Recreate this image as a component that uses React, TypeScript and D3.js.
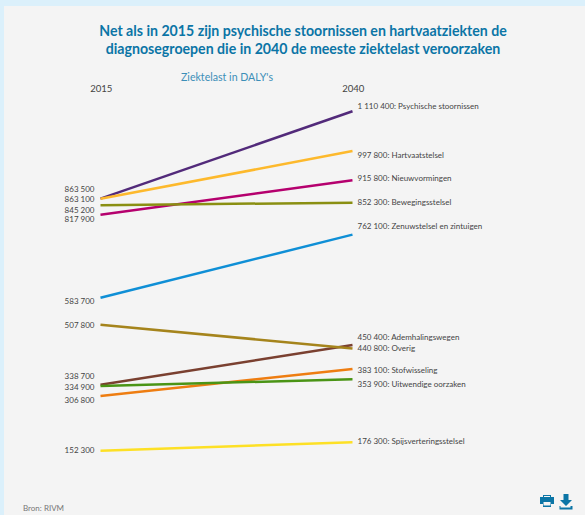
import React, { useEffect, useRef } from 'react'
import * as d3 from 'd3'

// Ziektelast in DALY's per diagnosegroep
const groups = [
  'Psychische stoornissen',
  'Hartvaatstelsel',
  'Nieuwvormingen',
  'Bewegingsstelsel',
  'Zenuwstelsel en zintuigen',
  'Ademhalingswegen',
  'Overig',
  'Stofwisseling',
  'Uitwendige oorzaken',
  'Spijsverteringsstelsel',
]
const years = ['2015', '2040']
const values2015 = [863500, 863100, 817900, 845200, 583700, 338700, 507800, 306800, 334900, 152300]
const values2040 = [1110400, 997800, 915800, 852300, 762100, 450400, 440800, 383100, 353900, 176300]
const colors = ['#522a7a', '#fdb92c', '#b5006e', '#8a8f12', '#0f8fd6', '#7a4030', '#a5841c', '#ee7d11', '#4a9415', '#fde025']

// label shifts so the texts don't overlap (px, same order as groups)
const nudgeLeft = [-9, 0.3, 4.8, 4.8, 3, -8.5, 0, 4, 1, -0.5]
const nudgeRight = [-5.5, 4.5, -2, 0, -8.5, -8, 0, 1, 4.5, -1.2]

const fmt = (v: number) => d3.format(',')(v).replace(/,/g, ' ')

export default function App() {
  const ref = useRef<SVGSVGElement>(null)

  useEffect(() => {
    const width = 585, height = 515
    const svg = d3.select(ref.current)
    svg.selectAll('*').remove()

    svg.append('rect').attr('width', width).attr('height', height).attr('fill', '#dbf0fb')
    svg.append('rect').attr('x', 4).attr('y', 6).attr('width', width - 4).attr('height', height - 6).attr('fill', '#f4f4f4')

    const font = 'Lato, sans-serif'
    const title = svg.append('g').attr('font-family', font).attr('font-size', 14.15).attr('font-weight', 700)
      .attr('fill', '#0b75a6').attr('text-anchor', 'middle')
    title.append('text').attr('x', 303).attr('y', 36).text('Net als in 2015 zijn psychische stoornissen en hartvaatziekten de')
    title.append('text').attr('x', 303).attr('y', 54).text('diagnosegroepen die in 2040 de meeste ziektelast veroorzaken')

    svg.append('text').attr('x', 227).attr('y', 81).attr('text-anchor', 'middle')
      .attr('font-family', font).attr('font-size', 10.6).attr('fill', '#3c8fb8').text("Ziektelast in DALY's")

    const x = d3.scalePoint().domain(years).range([100.5, 352.5])
    const y = d3.scaleLinear().domain([152300, 1110400]).range([450.7, 111.2])

    const head = svg.append('g').attr('font-family', font).attr('font-size', 9.6).attr('fill', '#444').attr('text-anchor', 'middle')
    years.forEach((yr) => {
      head.append('text').attr('x', x(yr)! + 0.8).attr('y', 92).text(yr)
    })

    const rows = groups.map((name, i) => ({ name, a: values2015[i], b: values2040[i], color: colors[i], i }))
    const line = d3.line<[string, number]>().x((d) => x(d[0])!).y((d) => y(d[1]))

    svg.append('g').selectAll('path').data(rows).enter().append('path')
      .attr('d', (d) => line([['2015', d.a], ['2040', d.b]]))
      .attr('fill', 'none')
      .attr('stroke', (d) => d.color)
      .attr('stroke-width', 2.5)

    const labels = svg.append('g').attr('font-family', font).attr('font-size', 8).attr('fill', '#444')
    labels.selectAll('text.left').data(rows).enter().append('text')
      .attr('class', 'left')
      .attr('x', x('2015')! - 6)
      .attr('y', (d) => y(d.a) + nudgeLeft[d.i])
      .attr('dy', '0.35em')
      .attr('text-anchor', 'end')
      .text((d) => fmt(d.a))
    labels.selectAll('text.right').data(rows).enter().append('text')
      .attr('class', 'right')
      .attr('x', x('2040')! + 5)
      .attr('y', (d) => y(d.b) + nudgeRight[d.i])
      .attr('dy', '0.35em')
      .text((d) => `${fmt(d.b)}: ${d.name}`)

    svg.append('text').attr('x', 23).attr('y', 511).attr('font-family', font).attr('font-size', 8)
      .attr('fill', '#777').text('Bron: RIVM')

    // print + download icons
    const icons = svg.append('g').attr('fill', '#0b75a6')
    icons.append('path').attr('fill-rule', 'evenodd')
      .attr('d', 'M543 495h8v2h3v7h-3v3h-8v-3h-3v-7h3zM544 496v1h6v-1zM543.5 502v3.5h7v-3.5z')
    icons.append('path').attr('d', 'M563.5 494h5v6h3.5l-6 6-6-6h3.5zM559.5 506h1v1.5h10v-1.5h2v3.5h-13z')
  }, [])

  return <svg ref={ref} width={585} height={515} style={{ position: 'absolute', left: 0, top: 0, display: 'block' }} />
}
